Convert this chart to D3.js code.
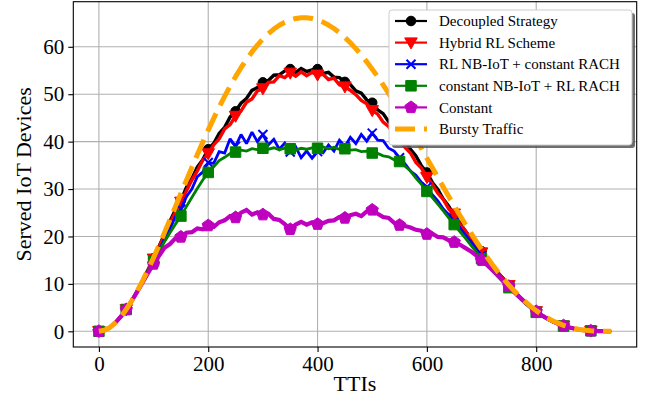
<!DOCTYPE html>
<html>
<head>
<meta charset="utf-8">
<script src="https://cdn.jsdelivr.net/npm/d3@7"></script>
<style>
  html, body { margin: 0; padding: 0; background: #fff; }
  svg { display: block; }
  text { font-family: "Liberation Serif", "Times New Roman", serif; fill: #000; }
</style>
</head>
<body>
<svg id="chart" width="649" height="409"></svg>
<script>
const ttis = [0,10,20,30,40,50,60,70,80,90,100,110,120,130,140,150,160,170,180,190,200,210,220,230,240,250,260,270,280,290,300,310,320,330,340,350,360,370,380,390,400,410,420,430,440,450,460,470,480,490,500,510,520,530,540,550,560,570,580,590,600,610,620,630,640,650,660,670,680,690,700,710,720,730,740,750,760,770,780,790,800,810,820,830,840,850,860,870,880,890,900,910,920,930,937];

const decoupled = [0,0.2,0.8,1.8,3.1,4.6,6.4,8.5,10.7,13.0,15.4,17.9,20.5,23.2,25.6,27.6,30.3,32.2,34.6,36.2,38.4,39.6,41.7,43.0,45.2,46.4,48.1,49.1,50.8,51.4,52.5,52.9,54.0,54.1,54.9,55.3,54.6,55.4,54.8,55.1,55.3,54.4,54.6,53.6,53.5,52.6,52.0,50.7,50.2,48.8,48.2,46.7,45.9,44.2,43.2,41.5,40.2,38.4,37.0,34.9,33.5,31.4,29.9,27.9,26.4,24.4,23.0,21.1,19.8,18.1,16.9,15.2,14.0,12.3,11.1,9.6,8.4,7.2,6.1,5.1,4.2,3.4,2.7,2.1,1.6,1.2,0.85,0.55,0.35,0.2,0.1,0.05,0.02,0,0];

const hybrid = [0,0.2,0.8,1.8,3.1,4.6,6.4,8.5,10.7,13.0,15.3,17.8,20.2,22.9,25.1,27.3,29.6,31.9,33.8,36.1,37.5,39.3,40.6,42.7,43.6,45.4,46.5,48.3,49.0,50.7,51.2,52.5,52.6,53.9,53.5,54.5,53.8,54.7,53.9,54.6,54.1,54.2,53.1,53.4,52.0,51.6,50.8,49.9,48.7,48.0,46.6,45.8,44.1,43.2,41.5,40.6,38.8,37.6,35.6,34.4,32.5,31.0,29.1,27.8,25.8,24.8,22.6,21.3,19.4,18.2,16.6,15.3,13.8,12.4,11.0,9.7,8.4,7.2,6.1,5.1,4.2,3.4,2.7,2.1,1.6,1.2,0.85,0.55,0.35,0.2,0.1,0.05,0.02,0,0];

const rlNbiot = [0,0.2,0.8,1.8,3.1,4.6,6.4,8.4,10.6,12.8,14.8,17.0,19.5,21.6,24.2,25.8,28.4,30.0,32.6,33.6,35.6,35.4,37.9,37.6,40.6,39.0,41.5,39.6,42.0,40.0,41.5,39.3,40.5,38.4,39.7,37.8,38.9,36.6,38.0,36.5,37.9,37.6,39.3,38.0,40.3,39.0,40.9,39.6,41.5,40.1,41.8,40.3,40.2,38.6,38.0,36.6,35.3,33.8,32.9,31.4,30.4,28.8,27.5,25.8,24.6,23.0,21.9,20.4,19.0,17.4,16.0,14.8,13.4,12.1,10.8,9.5,8.3,7.1,6.0,5.0,4.1,3.3,2.6,2.0,1.5,1.1,0.8,0.5,0.3,0.2,0.1,0.05,0.02,0,0];

const rlRach = [0,0.2,0.8,1.8,3.1,4.6,6.4,8.4,10.6,12.8,14.9,16.9,18.9,20.8,22.6,24.3,26.3,28.2,30.1,31.9,33.5,34.7,36.0,36.7,37.5,37.8,38.2,38.0,38.5,38.3,38.6,38.4,38.7,38.3,38.6,38.5,38.2,38.6,38.4,38.7,38.6,38.9,38.5,38.8,38.4,38.5,38.2,38.3,37.9,38.0,37.6,37.5,37.0,36.8,36.2,35.8,34.8,33.8,32.3,31.0,29.5,28.2,26.8,25.4,23.9,22.5,21.1,19.7,18.2,16.8,15.3,14.0,12.7,11.5,10.3,9.2,8.0,6.9,5.8,4.9,4.0,3.2,2.6,2.0,1.5,1.1,0.8,0.5,0.3,0.2,0.1,0.05,0.02,0,0];

const constant = [0,0.2,0.8,1.8,3.1,4.6,6.4,8.3,10.3,12.3,14.2,15.9,17.6,18.4,19.6,19.9,20.8,20.9,21.7,21.5,22.3,22.0,23.0,23.4,24.3,24.0,25.0,25.6,24.6,25.1,24.6,24.8,23.7,23.5,22.6,21.5,22.5,23.1,22.5,23.0,22.6,22.8,23.3,23.4,24.1,23.9,24.5,24.8,24.3,25.3,25.6,24.8,24.1,23.9,22.9,22.4,22.2,21.9,21.4,21.2,20.5,20.6,19.9,19.8,19.2,18.8,18.3,17.6,16.9,16.0,15.0,14.0,12.9,11.8,10.6,9.5,8.3,7.2,6.1,5.1,4.2,3.4,2.7,2.1,1.6,1.2,0.85,0.55,0.35,0.2,0.1,0.05,0.02,0,0];

const bursty = [0,0.21,0.82,1.78,3.06,4.62,6.43,8.46,10.68,13.04,15.54,18.14,20.81,23.54,26.30,29.06,31.82,34.56,37.25,39.88,42.43,44.90,47.28,49.54,51.69,53.70,55.59,57.33,58.92,60.36,61.65,62.77,63.74,64.54,65.18,65.66,65.97,66.13,66.13,65.97,65.66,65.20,64.59,63.86,62.98,61.98,60.86,59.62,58.28,56.83,55.29,53.66,51.96,50.19,48.35,46.46,44.53,42.56,40.56,38.54,36.51,34.48,32.45,30.43,28.44,26.47,24.54,22.64,20.80,19.01,17.29,15.63,14.04,12.53,11.09,9.75,8.49,7.32,6.24,5.25,4.36,3.56,2.85,2.24,1.71,1.26,0.90,0.60,0.38,0.22,0.11,0.04,0.01,0,0];

const seriesNames = ["Decoupled Strategy","Hybrid RL Scheme","RL NB-IoT + constant RACH","constant NB-IoT + RL RACH","Constant","Bursty Traffic"];
const xTicks = [0,200,400,600,800];
const yTicks = [0,10,20,30,40,50,60];
const xLabel = "TTIs";
const yLabel = "Served IoT Devices";
const markEvery = 50;

// ---- layout ----
const plot = {left: 73.3, right: 636.7, top: 1.7, bottom: 347};
const FONT = "Liberation Serif, Times New Roman, serif";

const x = d3.scaleLinear().domain([-46.85, 983.85]).range([plot.left, plot.right]);
const y = d3.scaleLinear().domain([-3.31, 69.51]).range([plot.bottom, plot.top]);

const svg = d3.select("#chart");

// grid
const grid = svg.append("g");
grid.selectAll(".gx").data(xTicks).enter().append("line")
  .attr("x1", d => x(d)).attr("x2", d => x(d))
  .attr("y1", plot.top).attr("y2", plot.bottom)
  .attr("stroke", "#b0b0b0").attr("stroke-width", 1.1);
grid.selectAll(".gy").data(yTicks).enter().append("line")
  .attr("x1", plot.left).attr("x2", plot.right)
  .attr("y1", d => y(d)).attr("y2", d => y(d))
  .attr("stroke", "#b0b0b0").attr("stroke-width", 1.1);

// custom marker symbols
const symTriDown = { draw(ctx, size) {
  const s = Math.sqrt(size);
  ctx.moveTo(-s*0.6, -s*0.45); ctx.lineTo(s*0.6, -s*0.45); ctx.lineTo(0, s*0.6); ctx.closePath();
}};
const symPent = { draw(ctx, size) {
  const r = Math.sqrt(size) * 0.6;
  for (let i = 0; i < 5; i++) {
    const a = -Math.PI/2 + i * 2*Math.PI/5;
    const px = r*Math.cos(a), py = r*Math.sin(a);
    if (i === 0) ctx.moveTo(px, py); else ctx.lineTo(px, py);
  }
  ctx.closePath();
}};
const symX = { draw(ctx, size) {
  const r = Math.sqrt(size) * 0.5;
  ctx.moveTo(-r, -r); ctx.lineTo(r, r); ctx.moveTo(-r, r); ctx.lineTo(r, -r);
}};
const symSquare = { draw(ctx, size) {
  const r = Math.sqrt(size) * 0.5;
  ctx.rect(-r, -r, 2*r, 2*r);
}};

const series = [
  {name: seriesNames[0], values: decoupled, color: "#000000", sym: d3.symbolCircle, size: 72, fill: true, lw: 3.4},
  {name: seriesNames[1], values: hybrid, color: "#ff0000", sym: symTriDown, size: 110, fill: true, lw: 3.4},
  {name: seriesNames[2], values: rlNbiot, color: "#0000ff", sym: symX, size: 81, fill: false, lw: 2.8},
  {name: seriesNames[3], values: rlRach, color: "#008000", sym: symSquare, size: 110, fill: true, lw: 2.8},
  {name: seriesNames[4], values: constant, color: "#bf00bf", sym: symPent, size: 115, fill: true, lw: 4.2},
  {name: seriesNames[5], values: bursty, color: "#ffa500", dashed: true}
];

const line = d3.line().x(d => x(d[0])).y(d => y(d[1]));
const plotG = svg.append("g");

series.forEach(s => {
  const pts = ttis.map((t, i) => [t, s.values[i]]);
  const p = plotG.append("path").datum(pts)
    .attr("d", line).attr("fill", "none")
    .attr("stroke", s.color)
    .attr("stroke-linejoin", "miter").attr("stroke-miterlimit", 2);
  if (s.dashed) {
    p.attr("stroke-width", 5).attr("stroke-dasharray", "20,9").attr("stroke-linejoin", "round");
  } else {
    p.attr("stroke-width", s.lw);
    const mk = pts.filter(d => d[0] % markEvery === 0);
    plotG.selectAll(null).data(mk).enter().append("path")
      .attr("transform", d => `translate(${x(d[0])},${y(d[1])})`)
      .attr("d", d3.symbol().type(s.sym).size(s.size))
      .attr("fill", s.fill ? s.color : "none")
      .attr("stroke", s.color)
      .attr("stroke-width", s.fill ? 1 : 2);
  }
});

// spines
svg.append("rect")
  .attr("x", plot.left).attr("y", plot.top)
  .attr("width", plot.right - plot.left).attr("height", plot.bottom - plot.top)
  .attr("fill", "none").attr("stroke", "#000").attr("stroke-width", 1.1);

// axes ticks
const xAxis = d3.axisBottom(x).tickValues(xTicks).tickSize(5).tickPadding(4).tickFormat(d3.format("d"));
const yAxis = d3.axisLeft(y).tickValues(yTicks).tickSize(5).tickPadding(4).tickFormat(d3.format("d"));
const gx = svg.append("g").attr("transform", `translate(0,${plot.bottom})`).call(xAxis);
const gy = svg.append("g").attr("transform", `translate(${plot.left},0)`).call(yAxis);
[gx, gy].forEach(g => {
  g.select(".domain").remove();
  g.selectAll(".tick line").attr("stroke", "#000").attr("stroke-width", 1.1);
  g.selectAll(".tick text").attr("font-family", FONT).attr("font-size", 21).attr("fill", "#000");
});
gx.selectAll(".tick text").attr("dy", "0.72em");

// axis labels
svg.append("text").attr("x", (plot.left + plot.right)/2).attr("y", 391)
  .attr("text-anchor", "middle").attr("font-family", FONT).attr("font-size", 22).text(xLabel);
svg.append("text").attr("transform", `translate(31,${(plot.top + plot.bottom)/2}) rotate(-90)`)
  .attr("text-anchor", "middle").attr("font-family", FONT).attr("font-size", 22).text(yLabel);

// legend
const lg = {x: 389, y: 10, w: 243, h: 135};
const legend = svg.append("g");
legend.append("rect").attr("x", lg.x + 3).attr("y", lg.y + 3).attr("width", lg.w).attr("height", lg.h)
  .attr("rx", 3).attr("fill", "#555").attr("opacity", 0.85);
legend.append("rect").attr("x", lg.x).attr("y", lg.y).attr("width", lg.w).attr("height", lg.h)
  .attr("rx", 3).attr("fill", "#fff").attr("stroke", "#cccccc").attr("stroke-width", 1);
series.forEach((s, i) => {
  const cy = 21 + i * 21.6;
  const g = legend.append("g");
  const l = g.append("line").attr("x1", 395).attr("x2", 427).attr("y1", cy).attr("y2", cy)
    .attr("stroke", s.color);
  if (s.dashed) {
    l.attr("stroke-width", 5).attr("stroke-dasharray", "20,9");
  } else {
    l.attr("stroke-width", 2.2);
    g.append("path").attr("transform", `translate(411,${cy})`)
      .attr("d", d3.symbol().type(s.sym).size(s.size))
      .attr("fill", s.fill ? s.color : "none")
      .attr("stroke", s.color).attr("stroke-width", s.fill ? 1 : 2);
  }
  g.append("text").attr("x", 439).attr("y", cy).attr("dy", "0.35em")
    .attr("font-family", FONT).attr("font-size", 15).text(s.name);
});
</script>
</body>
</html>
